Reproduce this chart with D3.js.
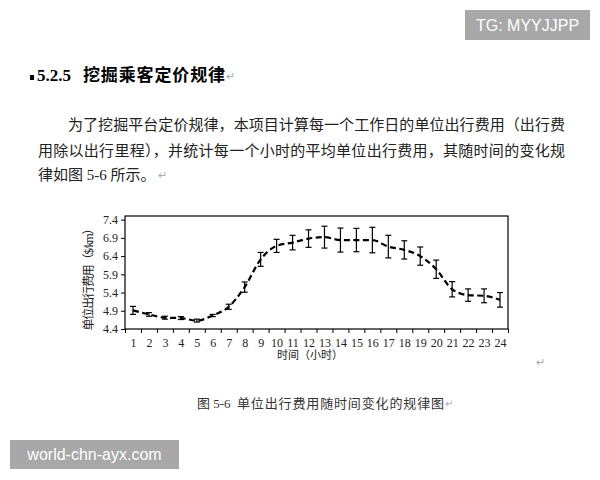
<!DOCTYPE html>
<html>
<head>
<meta charset="utf-8">
<script src="https://cdn.jsdelivr.net/npm/d3@7"></script>
<style>
  body { margin: 0; background: #fff; }
  svg { display: block; }
  .serif { font-family: "Liberation Serif", "Noto Sans CJK SC", serif; }
  .axis path, .axis line { stroke: #000; }
  .axis text { font-family: "Liberation Serif", serif; font-size: 12px; fill: #222; }
</style>
</head>
<body>
<div id="page"></div>
<script>
// hourly average unit fare ($/km) and error bar half-widths
const hours = d3.range(1, 25);
const fare = [4.91, 4.80, 4.71, 4.70, 4.63, 4.77, 5.01, 5.55, 6.31, 6.68, 6.77, 6.88,
              6.92, 6.84, 6.84, 6.84, 6.66, 6.57, 6.40, 6.04, 5.49, 5.33, 5.31, 5.20];
const fareErr = [0.11, 0.05, 0.04, 0.04, 0.04, 0.03, 0.07, 0.14, 0.19, 0.18, 0.20, 0.24,
                 0.30, 0.33, 0.32, 0.35, 0.31, 0.25, 0.25, 0.25, 0.21, 0.17, 0.19, 0.20];
const yTicks = [4.4, 4.9, 5.4, 5.9, 6.4, 6.9, 7.4];

const headingNum = "5.2.5";
const headingText = "挖掘乘客定价规律";
const paraLines = [
    "为了挖掘平台定价规律，本项目计算每一个工作日的单位出行费用（出行费",
    "用除以出行里程），并统计每一个小时的平均单位出行费用，其随时间的变化规",
    "律如图 5-6 所示。"
];
const captionNum = "图 5-6";
const captionText = "单位出行费用随时间变化的规律图";

const svg = d3.select("#page").append("svg")
    .attr("width", 600)
    .attr("height", 480);

// --- document text ---
svg.append("rect").attr("x", 30).attr("y", 75).attr("width", 4).attr("height", 5).attr("fill", "#000");
svg.append("text")
    .attr("class", "serif")
    .attr("x", 37).attr("y", 81)
    .style("font-size", "17px").style("font-weight", "bold")
    .attr("fill", "#000")
    .text(headingNum);
svg.append("text")
    .attr("class", "serif")
    .attr("x", 83).attr("y", 81)
    .attr("textLength", 142).attr("lengthAdjust", "spacing")
    .style("font-size", "17px").style("font-weight", "bold")
    .attr("fill", "#000")
    .text(headingText);
svg.append("text").attr("x", 226).attr("y", 80).style("font-size", "11px").attr("fill", "#aaa").text("↵");

// paragraph (first two lines justified)
const para = [
    {x: 68, y: 130, w: 497},
    {x: 38, y: 156, w: 527},
    {x: 38, y: 180, w: null}
];
paraLines.forEach((line, i) => {
    let t = svg.append("text")
        .attr("class", "serif")
        .attr("x", para[i].x).attr("y", para[i].y)
        .style("font-size", "15px")
        .attr("fill", "#222")
        .text(line);
    if (para[i].w) t.attr("textLength", para[i].w).attr("lengthAdjust", "spacing");
});
svg.append("text").attr("x", 158).attr("y", 179).style("font-size", "11px").attr("fill", "#aaa").text("↵");

// --- chart ---
const plot = {left: 125, right: 508, top: 216, bottom: 329};

const x = d3.scaleLinear().domain([0.5, 24.5]).range([plot.left, plot.right]);
const y = d3.scaleLinear().domain([4.4, 7.5]).range([plot.bottom, plot.top]);

const g = svg.append("g");

// plot frame
g.append("rect")
    .attr("x", plot.left).attr("y", plot.top)
    .attr("width", plot.right - plot.left).attr("height", plot.bottom - plot.top)
    .attr("fill", "none").attr("stroke", "#000").attr("stroke-width", 1.2);

// y axis
g.append("g")
    .attr("class", "axis")
    .attr("transform", `translate(${plot.left},0)`)
    .call(d3.axisLeft(y).tickValues(yTicks).tickSize(4).tickSizeOuter(0).tickFormat(d3.format(".1f")))
    .call(a => a.select(".domain").remove());

// x axis: tick marks between categories, labels at centers
g.append("g")
    .attr("class", "axis")
    .attr("transform", `translate(0,${plot.bottom})`)
    .call(d3.axisBottom(x).tickValues(d3.range(0.5, 25, 1)).tickSize(4).tickSizeOuter(0).tickFormat(""))
    .call(a => a.select(".domain").remove());

g.append("g")
    .attr("class", "axis")
    .attr("transform", `translate(0,${plot.bottom})`)
    .call(d3.axisBottom(x).tickValues(hours).tickSize(0).tickPadding(9).tickFormat(d3.format("d")))
    .call(a => a.select(".domain").remove());

// axis titles
g.append("text")
    .attr("class", "serif")
    .attr("x", 310).attr("y", 359)
    .attr("text-anchor", "middle")
    .style("font-size", "11px").attr("fill", "#222")
    .text("时间（小时）");

g.append("text")
    .attr("class", "serif")
    .attr("transform", `translate(93,${(plot.top + plot.bottom) / 2 + 4}) rotate(-90)`)
    .attr("x", -54)
    .attr("textLength", 108).attr("lengthAdjust", "spacing")
    .style("font-size", "12px").attr("fill", "#222")
    .text("单位出行费用（$/km）");

// error bars
const bars = g.append("g").selectAll("g")
    .data(hours)
    .join("g");
bars.append("line")
    .attr("x1", d => x(d)).attr("x2", d => x(d))
    .attr("y1", (d, i) => y(fare[i] + fareErr[i]))
    .attr("y2", (d, i) => y(fare[i] - fareErr[i]))
    .attr("stroke", "#000").attr("stroke-width", 1.2);
[1, -1].forEach(s => {
    bars.append("line")
        .attr("x1", d => x(d) - 3).attr("x2", d => x(d) + 3)
        .attr("y1", (d, i) => y(fare[i] + s * fareErr[i]))
        .attr("y2", (d, i) => y(fare[i] + s * fareErr[i]))
        .attr("stroke", "#000").attr("stroke-width", 1.2);
});

// dashed mean line
const line = d3.line()
    .x((d, i) => x(hours[i]))
    .y(d => y(d))
    .curve(d3.curveMonotoneX);
g.append("path")
    .datum(fare)
    .attr("d", line)
    .attr("fill", "none")
    .attr("stroke", "#000")
    .attr("stroke-width", 2.2)
    .attr("stroke-dasharray", "6,3.5");

svg.append("text").attr("x", 536).attr("y", 366).style("font-size", "11px").attr("fill", "#aaa").text("↵");

// caption
svg.append("text")
    .attr("class", "serif")
    .attr("x", 197).attr("y", 408)
    .style("font-size", "13px").attr("fill", "#333")
    .text(captionNum);
svg.append("text")
    .attr("class", "serif")
    .attr("x", 237).attr("y", 408)
    .attr("textLength", 207).attr("lengthAdjust", "spacing")
    .style("font-size", "13px").attr("fill", "#333")
    .text(captionText);
svg.append("text").attr("x", 445).attr("y", 407).style("font-size", "10px").attr("fill", "#aaa").text("↵");

// --- watermarks ---
svg.append("rect").attr("x", 465).attr("y", 10).attr("width", 125).attr("height", 30).attr("fill", "#a8a8a8");
svg.append("text")
    .attr("x", 527.5).attr("y", 31)
    .attr("text-anchor", "middle")
    .style("font-family", "'Liberation Sans', Arial, sans-serif").style("font-size", "16px")
    .attr("fill", "#fff")
    .text("TG: MYYJJPP");

svg.append("rect").attr("x", 10).attr("y", 440).attr("width", 169).attr("height", 29).attr("fill", "#a8a8a8");
svg.append("text")
    .attr("x", 94.5).attr("y", 460)
    .attr("text-anchor", "middle")
    .style("font-family", "'Liberation Sans', Arial, sans-serif").style("font-size", "16px")
    .attr("fill", "#fff")
    .text("world-chn-ayx.com");
</script>
</body>
</html>
